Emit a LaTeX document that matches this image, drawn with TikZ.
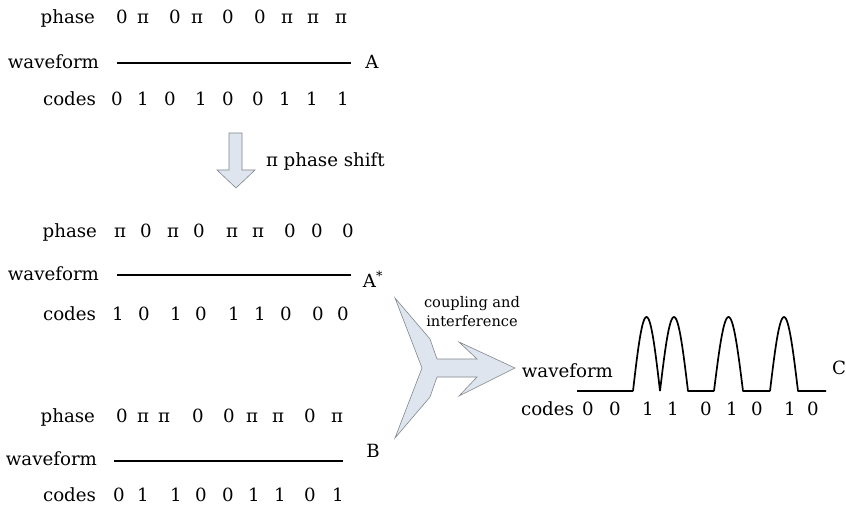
\documentclass[tikz,border=0pt]{standalone}
\usepackage{fontspec}
\setmainfont{DejaVu Serif}
\definecolor{arrowfill}{RGB}{222,229,239}
\definecolor{arrowline}{RGB}{130,134,140}
\begin{document}
\begin{tikzpicture}[x=1pt,y=-1pt,
  txt/.style={inner sep=0pt,outer sep=0pt,font=\fontsize{18.2}{20}\selectfont},
  lbl/.style={txt,anchor=base east},
  val/.style={txt,anchor=base},
  small/.style={inner sep=0pt,font=\fontsize{14.6}{19}\selectfont,align=center},
  wave/.style={line width=1.7pt},
  fatarrow/.style={fill=arrowfill,draw=arrowline,line width=0.6pt,line join=miter}]
\useasboundingbox (0,0) rectangle (846,505);

% ---- signal A ----
\node[lbl] (pA) at (95,24) {phase};
\foreach \x/\v [count=\i] in {122/0,143/π,175/0,197/π,228/0,260/0,287/π,313/π,341/π}
  \node[val] (pA\i) at (\x,24) {\v};
\node[lbl] (wA) at (99,69) {waveform};
\coordinate (wA1) at (117,63);
\coordinate (wA2) at (351,63);
\draw[wave] (wA1) -- (wA2);
\node[val] (nA) at (372,69) {A};
\node[lbl] (cA) at (96,106) {codes};
\foreach \x/\v [count=\i] in {117/0,143/1,170/0,201/1,228/0,258/0,285/1,312/1,343/1}
  \node[val] (cA\i) at (\x,106) {\v};

% ---- phase shift arrow ----
\draw[fatarrow] (229,133) -- (242,133) -- (242,170) -- (255,170) -- (236,188)
  -- (217,170) -- (229,170) -- cycle;
\node[txt,anchor=base west] (shift) at (266,167) {π phase shift};

% ---- signal A* ----
\node[lbl] (pS) at (97,238) {phase};
\foreach \x/\v [count=\i] in {120/π,146/0,173/π,199/0,232/π,258/π,290/0,317/0,348/0}
  \node[val] (pS\i) at (\x,238) {\v};
\node[lbl] (wS) at (99,280) {waveform};
\coordinate (wS1) at (117,275);
\coordinate (wS2) at (351,275);
\draw[wave] (wS1) -- (wS2);
\node[val] (nS) at (373,287) {A\textsuperscript{*}};
\node[lbl] (cS) at (96,320) {codes};
\foreach \x/\v [count=\i] in {118/1,144/0,176/1,201/0,234/1,260/1,286/0,318/0,343/0}
  \node[val] (cS\i) at (\x,320) {\v};

% ---- signal B ----
\node[lbl] (pB) at (95,422) {phase};
\foreach \x/\v [count=\i] in {122/0,143/π,164/π,198/0,229/0,252/π,278/π,310/0,337/π}
  \node[val] (pB\i) at (\x,422) {\v};
\node[lbl] (wB) at (97,465) {waveform};
\coordinate (wB1) at (114,461);
\coordinate (wB2) at (343,461);
\draw[wave] (wB1) -- (wB2);
\node[val] (nB) at (373,457) {B};
\node[lbl] (cB) at (96,501) {codes};
\foreach \x/\v [count=\i] in {119/0,143/1,176/1,201/0,228/0,254/1,280/1,310/0,338/1}
  \node[val] (cB\i) at (\x,501) {\v};

% ---- coupling arrow ----
\draw[fatarrow] (395,298) -- (430,339) -- (437,359) -- (477,359) -- (459,342)
  -- (515,368) -- (459,396) -- (477,377) -- (437,377) -- (430,397)
  -- (395,438) -- (422,368) -- cycle;
\node[small] (coup) at (472,312) {coupling and\\interference};

% ---- signal C ----
\node[lbl] (wC) at (613,377) {waveform};
\draw[wave,line join=round]
  (577,391) -- (633,391)
  plot[domain=0:180,samples=40] ({633+27*\x/180},{391-74*sin(\x)})
  plot[domain=0:180,samples=40] ({660+28*\x/180},{391-74*sin(\x)})
  -- (714,391)
  plot[domain=0:180,samples=40] ({714+29*\x/180},{391-74*sin(\x)})
  -- (770,391)
  plot[domain=0:180,samples=40] ({770+28*\x/180},{391-74*sin(\x)})
  -- (826,391);
\node[val] (nC) at (839,374) {C};
\node[lbl] (cC) at (574,415) {codes};
\foreach \x/\v [count=\i] in {588/0,615/0,648/1,673/1,706/0,732/1,757/0,790/1,813/0}
  \node[val] (cC\i) at (\x,415) {\v};
\end{tikzpicture}
\end{document}
